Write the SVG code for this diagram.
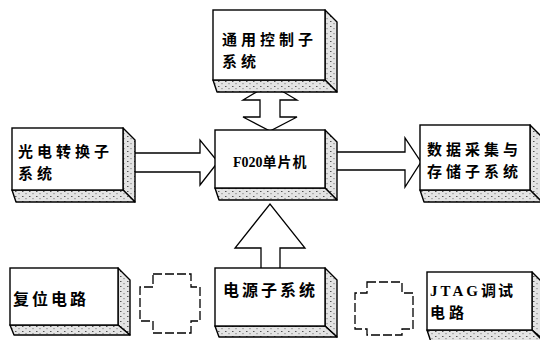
<svg xmlns="http://www.w3.org/2000/svg" width="540" height="340" viewBox="0 0 540 340">
<defs>
<pattern id="speck" width="7" height="5" patternUnits="userSpaceOnUse">
<rect width="7" height="5" fill="#e4e4e4"/>
<rect x="1" y="1" width="1.5" height="1" fill="#555"/>
<rect x="4.5" y="3" width="1" height="1.2" fill="#777"/>
</pattern>
<style>
.front{fill:#fff;stroke:#000;stroke-width:1.4}
.face{fill:url(#speck);stroke:#000;stroke-width:1.4;stroke-linejoin:round}
.arr{fill:#fff;stroke:#000;stroke-width:1.3;stroke-linejoin:miter}
.cross{fill:#fff;stroke:#000;stroke-width:1.3;stroke-dasharray:9 3}
.t{font-family:"Noto Sans CJK SC",sans-serif;font-weight:700;font-size:16px;fill:#000;letter-spacing:3px}
.t2{font-family:"Noto Sans CJK SC",sans-serif;font-weight:700;font-size:15px;fill:#000;letter-spacing:4px}
.s{font-family:"Liberation Serif","Noto Sans CJK SC",serif;font-weight:700;fill:#000}
</style>
</defs>
<rect width="540" height="340" fill="#fff"/>
<g id="connectors">
<polygon class="arr" points="260,100 243,100 270,84 297,100 280,100 280,117 297,117 270,131 243,117 260,117"/>
<polygon class="arr" points="130,153 200,153 200,140 218,162 200,185 200,172 130,172"/>
<polygon class="arr" points="335,152 405,152 405,138 421,162 405,187 405,170 335,170"/>
<polygon class="arr" points="261,270 261,248 235,248 270,204 305,248 280,248 280,270"/>
<polygon class="cross" points="153,274 191,274 191,287 200,287 200,321 191,321 191,333 153,333 153,321 140,321 140,287 153,287"/>
<polygon class="cross" points="367,282 402,282 402,293 413,293 413,329 402,329 402,335 367,335 367,329 355,329 355,293 367,293"/>
</g>
<g id="node-control">
<polygon class="face" points="325,10 337,22 337,92 325,80"/>
<polygon class="face" points="213,80 325,80 337,92 217,92"/>
<rect class="front" x="213" y="10" width="112" height="70"/>
<text class="t2" x="222" y="45">通用控制子</text>
<text class="t2" x="222" y="67">系统</text>
</g>
<g id="node-photo">
<polygon class="face" points="123,128 135,140 135,202 123,190"/>
<polygon class="face" points="12,190 123,190 135,202 16,202"/>
<rect class="front" x="12" y="128" width="111" height="62"/>
<text class="t2" x="18" y="157">光电转换子</text>
<text class="t2" x="18" y="179">系统</text>
</g>
<g id="node-mcu">
<polygon class="face" points="325,130 337,142 337,200 325,188"/>
<polygon class="face" points="215,188 325,188 337,200 219,200"/>
<rect class="front" x="215" y="130" width="110" height="58"/>
<text class="s" x="233" y="167" font-size="14">F020<tspan font-family="Noto Sans CJK SC, sans-serif" letter-spacing="1">单片机</tspan></text>
</g>
<g id="node-data">
<polygon class="face" points="530,125 542,137 542,202 530,190"/>
<polygon class="face" points="420,190 530,190 542,202 424,202"/>
<rect class="front" x="420" y="125" width="110" height="65"/>
<text class="t2" x="427" y="155">数据采集与</text>
<text class="t2" x="427" y="177">存储子系统</text>
</g>
<g id="node-reset">
<polygon class="face" points="118,268 130,280 130,335 118,325"/>
<polygon class="face" points="10,325 118,325 130,335 14,335"/>
<rect class="front" x="10" y="268" width="108" height="57"/>
<text class="t" x="13" y="305">复位电路</text>
</g>
<g id="node-power">
<polygon class="face" points="325,268 337,280 337,337 325,326"/>
<polygon class="face" points="215,326 325,326 337,337 219,337"/>
<rect class="front" x="215" y="268" width="110" height="58"/>
<text class="t" x="223" y="296" letter-spacing="1">电源子系统</text>
</g>
<g id="node-jtag">
<polygon class="face" points="532,272 544,284 544,340 532,330"/>
<polygon class="face" points="427,330 532,330 544,342 431,342"/>
<rect class="front" x="427" y="272" width="105" height="58"/>
<text class="s" x="430" y="296" font-size="15" letter-spacing="3">JTAG<tspan font-family="Noto Sans CJK SC, sans-serif" letter-spacing="2">调试</tspan></text>
<text class="t2" x="430" y="318">电路</text>
</g>
</svg>
